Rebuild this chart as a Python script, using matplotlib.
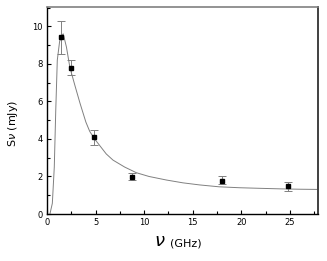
import numpy as np
import matplotlib.pyplot as plt
from matplotlib.ticker import MultipleLocator

# measured flux densities
freq = [1.4, 2.43, 4.82, 8.75, 18.0, 24.8]
flux = [9.43, 7.8, 4.11, 1.98, 1.77, 1.49]
err_lo = [0.92, 0.41, 0.41, 0.19, 0.17, 0.27]
err_hi = [0.85, 0.39, 0.39, 0.18, 0.25, 0.23]

# model curve
curve_x = [0.3, 0.55, 0.75, 0.9, 1.06, 1.3, 1.5, 1.67, 2.0, 2.36, 2.9, 3.4,
           4.0, 4.4, 4.9, 6.1, 6.8, 8.0, 9.2, 10.5, 12.3, 14.0, 15.7, 17.7,
           19.8, 21.8, 24.0, 26.0, 27.8]
curve_y = [0.0, 0.57, 2.5, 5.5, 8.2, 9.2, 9.5, 9.6, 8.9, 7.8, 6.8, 5.9,
           4.9, 4.4, 4.0, 3.2, 2.87, 2.5, 2.2, 2.0, 1.81, 1.66, 1.55, 1.45,
           1.4, 1.37, 1.34, 1.32, 1.31]

fig = plt.figure(figsize=(3.27, 2.61), dpi=100)
ax = fig.add_axes([47 / 327, 47 / 261, 271 / 327, 207 / 261])

ax.plot(curve_x, curve_y, color='#808080', lw=0.7)
ax.errorbar(freq, flux, yerr=[err_lo, err_hi], fmt='none', ecolor='#808080',
            elinewidth=0.7, capsize=3, capthick=0.7)
ax.plot(freq, flux, 's', color='black', ms=3)

ax.set_xlim(0, 27.9)
ax.set_ylim(0, 11.03)
ax.xaxis.set_major_locator(MultipleLocator(5))
ax.xaxis.set_minor_locator(MultipleLocator(2.5))
ax.yaxis.set_major_locator(MultipleLocator(2))
ax.yaxis.set_minor_locator(MultipleLocator(1))
ax.tick_params(which='both', direction='in', labelsize=6, pad=3,
               top=False, right=False)
ax.tick_params(which='major', length=3, width=0.8)
ax.tick_params(which='minor', length=2, width=0.8)

ax.spines['left'].set_linewidth(1.0)
ax.spines['bottom'].set_linewidth(1.0)
ax.spines['top'].set_color('#808080')
ax.spines['top'].set_linewidth(1.2)
ax.spines['right'].set_color('#404040')
ax.spines['right'].set_linewidth(1.4)

# axis labels: large nu plus smaller text
fig.text(160 / 327, 1 - 241 / 261, r'$\nu$', fontsize=13, ha='center', va='center')
fig.text(170 / 327, 1 - 243 / 261, '(GHz)', fontsize=8, ha='left', va='center')
fig.text(13 / 327, 1 - 123 / 261, r'S$\nu$ (mJy)', fontsize=8, rotation=90,
         ha='center', va='center')

fig.savefig('out.png', dpi=100)
